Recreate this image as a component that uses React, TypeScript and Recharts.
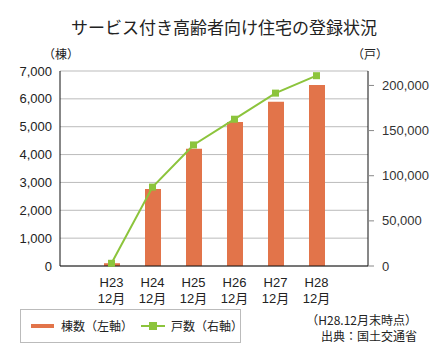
import React from 'react';
import { ComposedChart, Bar, Line, XAxis, YAxis, CartesianGrid } from 'recharts';

const categories = ['H23', 'H24', 'H25', 'H26', 'H27', 'H28'];
const buildings = [100, 2760, 4210, 5170, 5900, 6500];
const units = [3000, 87400, 134100, 162600, 191500, 210800];
const leftTicks = [0, 1000, 2000, 3000, 4000, 5000, 6000, 7000];
const rightTicks = [0, 50000, 100000, 150000, 200000];

const data = categories.map((c, i) => ({ name: c, bldg: buildings[i], units: units[i] }));

const font = '"Noto Sans CJK JP", "Noto Sans", sans-serif';
const numFont = '"Liberation Sans", "Noto Sans CJK JP", sans-serif';
const fmt = (v: number) => v.toLocaleString('en-US');

const XTick = (props: any) => {
  const { x, y, payload } = props;
  return (
    <text x={x} y={y + 13} textAnchor="middle" fill="#222" fontSize={13} fontFamily={numFont}>
      <tspan x={x}>{payload.value}</tspan>
      <tspan x={x} dy={16}>12月</tspan>
    </text>
  );
};

const SquareDot = (props: any) => {
  const { cx, cy, index } = props;
  return <rect key={index} x={cx - 3.5} y={cy - 3.5} width={7} height={7} fill="#8cc43c" />;
};

export default function App() {
  return (
    <div style={{ position: 'absolute', left: 0, top: 0, width: 448, height: 363, background: '#fff', fontFamily: font, color: '#222' }}>
      <div style={{ position: 'absolute', left: 0, width: 448, top: 16, textAlign: 'center', fontSize: 17, lineHeight: '22px' }}>
        サービス付き高齢者向け住宅の登録状況
      </div>
      <div style={{ position: 'absolute', left: 43, top: 45, fontSize: 12 }}>（棟）</div>
      <div style={{ position: 'absolute', left: 352, top: 45, fontSize: 12 }}>（戸）</div>
      <ComposedChart width={448} height={363} data={data} margin={{ top: 71, right: 0, bottom: 47, left: 0 }}>
        <CartesianGrid yAxisId="left" vertical={false} stroke="#bbb" />
        <XAxis dataKey="name" xAxisId={0} tick={<XTick />} tickLine={false} axisLine={{ stroke: '#111' }}
          padding={{ left: 31, right: 31 }} height={50} interval={0} />
        <YAxis yAxisId="left" domain={[0, 7000]} ticks={leftTicks} tickFormatter={fmt} width={60}
          tickSize={0} tickMargin={8} tickLine={false} axisLine={{ stroke: '#111' }}
          tick={{ fontSize: 13, fill: '#222', fontFamily: numFont }} />
        <YAxis yAxisId="right" orientation="right" domain={[0, 216000]} ticks={rightTicks} tickFormatter={fmt} width={80}
          tickSize={6} tickMargin={8} tickLine={{ stroke: '#888' }} axisLine={{ stroke: '#111' }}
          tick={{ fontSize: 13, fill: '#333', fontFamily: numFont }} />
        <Bar yAxisId="left" dataKey="bldg" fill="#e2744a" barSize={16} isAnimationActive={false} />
        <Line yAxisId="right" dataKey="units" type="linear" stroke="#8cc43c" strokeWidth={2}
          dot={<SquareDot />} activeDot={false} isAnimationActive={false} />
      </ComposedChart>
      <div style={{ position: 'absolute', left: 20, top: 309, width: 219, height: 32, border: '1px solid #bbb' }}>
        <div style={{ position: 'absolute', left: 10, top: 14, width: 23, height: 4, background: '#e2744a' }} />
        <div style={{ position: 'absolute', left: 40, top: 6, fontSize: 12, lineHeight: '20px' }}>棟数（左軸）</div>
        <div style={{ position: 'absolute', left: 120, top: 15, width: 24, height: 2, background: '#8cc43c' }} />
        <div style={{ position: 'absolute', left: 128, top: 12, width: 8, height: 8, background: '#8cc43c' }} />
        <div style={{ position: 'absolute', left: 150, top: 6, fontSize: 12, lineHeight: '20px' }}>戸数（右軸）</div>
      </div>
      <div style={{ position: 'absolute', right: 31, top: 312, fontSize: 12, lineHeight: '16px', textAlign: 'right' }}>
        （H28.12月末時点）<br />出典：国土交通省
      </div>
    </div>
  );
}
